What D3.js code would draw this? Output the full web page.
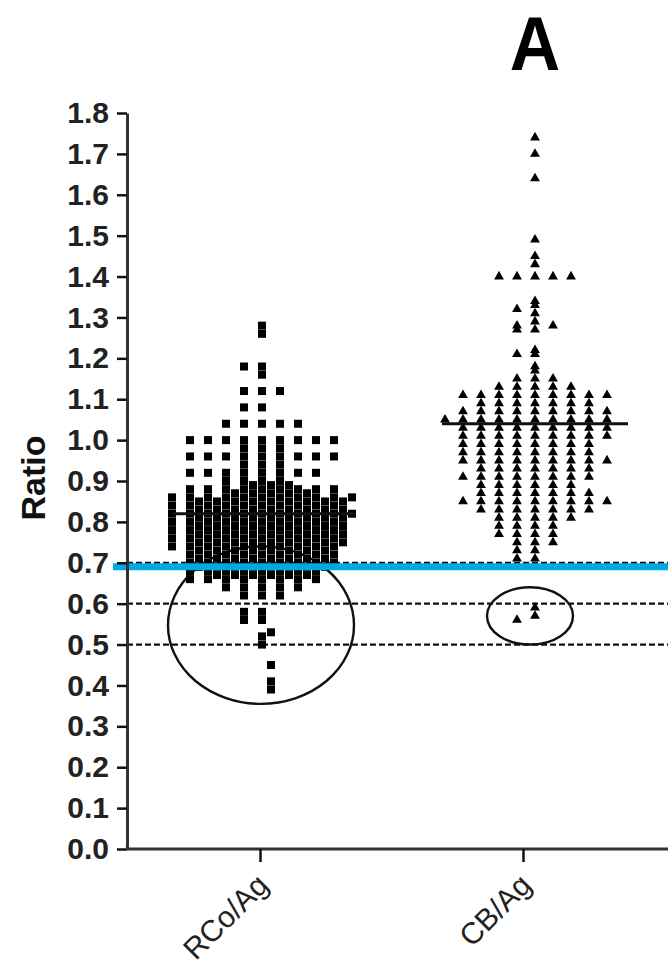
<!DOCTYPE html>
<html>
<head>
<meta charset="utf-8">
<script src="https://cdn.jsdelivr.net/npm/d3@7"></script>
<style>
  html, body { margin: 0; padding: 0; background: #fff; }
  svg { display: block; }
  text { font-family: "Liberation Sans", Arial, sans-serif; }
</style>
</head>
<body>
<svg id="chart" width="668" height="970"></svg>
<script>
// ---------------- data ----------------
const categories = ["RCo/Ag", "CB/Ag"];

const rcoValues = [
  1.28, 1.26, 1.18, 1.18, 1.16, 1.12, 1.12, 1.12, 1.08, 1.08,
  1.04, 1.04, 1.04, 1.04, 1.04,
  1.00, 1.00, 1.00, 1.00, 1.00, 1.00, 1.00, 1.00, 1.00,
  0.98, 0.98, 0.98,
  0.96, 0.96, 0.96, 0.96, 0.96, 0.96, 0.96, 0.96, 0.96,
  0.94, 0.94, 0.94,
  0.92, 0.92, 0.92, 0.92, 0.92, 0.92, 0.92, 0.92,
  0.90, 0.90, 0.90, 0.90,
  0.89, 0.89, 0.89,
  0.88, 0.88, 0.88, 0.88, 0.88, 0.88, 0.88, 0.88, 0.88,
  0.87, 0.87, 0.87, 0.87, 0.87,
  0.86, 0.86, 0.86, 0.86, 0.86, 0.86, 0.86, 0.86, 0.86, 0.86, 0.86,
  0.85, 0.85, 0.85, 0.85, 0.85, 0.85, 0.85, 0.85, 0.85,
  0.84, 0.84, 0.84, 0.84, 0.84, 0.84, 0.84, 0.84, 0.84, 0.84,
  0.83, 0.83, 0.83, 0.83, 0.83, 0.83, 0.83, 0.83, 0.83,
  0.82, 0.82, 0.82, 0.82, 0.82, 0.82, 0.82, 0.82, 0.82, 0.82, 0.82,
  0.81, 0.81, 0.81, 0.81, 0.81, 0.81, 0.81, 0.81, 0.81,
  0.80, 0.80, 0.80, 0.80, 0.80, 0.80, 0.80, 0.80, 0.80, 0.80,
  0.79, 0.79, 0.79, 0.79, 0.79, 0.79, 0.79, 0.79, 0.79,
  0.78, 0.78, 0.78, 0.78, 0.78, 0.78, 0.78, 0.78, 0.78, 0.78,
  0.77, 0.77, 0.77, 0.77, 0.77, 0.77, 0.77, 0.77, 0.77,
  0.76, 0.76, 0.76, 0.76, 0.76, 0.76, 0.76, 0.76, 0.76, 0.76,
  0.75, 0.75, 0.75, 0.75, 0.75, 0.75, 0.75, 0.75, 0.75,
  0.74, 0.74, 0.74, 0.74, 0.74, 0.74, 0.74, 0.74, 0.74, 0.74,
  0.73, 0.73, 0.73, 0.73, 0.73, 0.73, 0.73, 0.73,
  0.72, 0.72, 0.72, 0.72, 0.72, 0.72, 0.72, 0.72, 0.72,
  0.71, 0.71, 0.71, 0.71, 0.71, 0.71, 0.71, 0.71,
  0.70, 0.70, 0.70, 0.70, 0.70, 0.70, 0.70, 0.70, 0.70,
  0.69, 0.69, 0.69, 0.69, 0.69, 0.69, 0.69, 0.69,
  0.68, 0.68, 0.68, 0.68, 0.68, 0.68, 0.68, 0.68,
  0.67, 0.67, 0.67, 0.67, 0.67, 0.67,
  0.66, 0.66, 0.66, 0.66, 0.66, 0.66, 0.66, 0.66,
  0.64, 0.64, 0.64, 0.64, 0.64,
  0.62, 0.62, 0.62,
  0.58, 0.58, 0.56, 0.56, 0.53, 0.52, 0.50, 0.45, 0.41, 0.39
];

const cbValues = [
  1.74, 1.70, 1.64, 1.49, 1.45, 1.43,
  1.40, 1.40, 1.40, 1.40, 1.40,
  1.34, 1.33, 1.32, 1.31, 1.29, 1.28, 1.28, 1.27, 1.27,
  1.22, 1.21, 1.21, 1.18, 1.17,
  1.15, 1.15, 1.15,
  1.13, 1.13, 1.13, 1.13, 1.13,
  1.11, 1.11, 1.11, 1.11, 1.11, 1.11, 1.11, 1.11, 1.11,
  1.09, 1.09, 1.09, 1.09, 1.09, 1.09, 1.09,
  1.07, 1.07, 1.07, 1.07, 1.07, 1.07, 1.07, 1.07, 1.07,
  1.05, 1.05, 1.05, 1.05, 1.05, 1.05, 1.05, 1.05, 1.05, 1.05,
  1.03, 1.03, 1.03, 1.03, 1.03, 1.03, 1.03, 1.03, 1.03,
  1.01, 1.01, 1.01, 1.01, 1.01, 1.01, 1.01, 1.01, 1.01,
  0.99, 0.99, 0.99, 0.99, 0.99, 0.99, 0.99, 0.99,
  0.97, 0.97, 0.97, 0.97, 0.97, 0.97, 0.97, 0.97,
  0.95, 0.95, 0.95, 0.95, 0.95, 0.95, 0.95, 0.95, 0.95,
  0.93, 0.93, 0.93, 0.93, 0.93, 0.93, 0.93,
  0.91, 0.91, 0.91, 0.91, 0.91, 0.91, 0.91, 0.91,
  0.89, 0.89, 0.89, 0.89, 0.89, 0.89,
  0.87, 0.87, 0.87, 0.87, 0.87, 0.87, 0.87,
  0.85, 0.85, 0.85, 0.85, 0.85, 0.85, 0.85, 0.85, 0.85,
  0.83, 0.83, 0.83, 0.83, 0.83, 0.83, 0.83,
  0.81, 0.81, 0.81, 0.81, 0.81,
  0.79, 0.79, 0.79, 0.79,
  0.77, 0.77, 0.77, 0.77,
  0.75, 0.75, 0.75,
  0.73, 0.73, 0.71, 0.71,
  0.59, 0.57, 0.56
];

const medians = [0.82, 1.04];
const yTickValues = [0.0, 0.1, 0.2, 0.3, 0.4, 0.5, 0.6, 0.7, 0.8, 0.9, 1.0, 1.1, 1.2, 1.3, 1.4, 1.5, 1.6, 1.7, 1.8];
const dashedLevels = [0.7, 0.6, 0.5];
const cutoffLevel = 0.69;
// circled regions (value range per category)
const circledLow = [0.355, 0.50];
const circledHigh = [0.74, 0.64];
const panelLabel = "A";
const yLabel = "Ratio";

// ---------------- layout ----------------
const svg = d3.select("#chart");
const plotLeft = 127, plotRight = 668, plotTop = 113, plotBottom = 849;

const y = d3.scaleLinear().domain([0, 1.8]).range([plotBottom, plotTop]);
const x = d3.scalePoint().domain(categories).range([260, 523]);

const groups = [
  { cat: categories[0], values: rcoValues, shape: d3.symbolSquare, size: 64, dx: 2, half: 0, stagger: true, binsPerUnit: 100, step: 18 },
  { cat: categories[1], values: cbValues, shape: d3.symbolTriangle, size: 42, dx: 3, half: 0.5, stagger: false, binsPerUnit: 50, step: 18 }
];

function layout(g) {
  const bins = new Map();
  const pts = [];
  g.values.forEach(v => {
    const key = Math.floor(v * g.binsPerUnit + 1e-6);
    const n = bins.get(key) || 0;
    bins.set(key, n + 1);
    const half = g.stagger ? ((key % 2) ? 0.5 : 0) : g.half;
    let m;
    if (half) {
      m = n % 2 === 0 ? n / 2 + 0.5 : -(Math.floor(n / 2) + 0.5);
    } else {
      m = n === 0 ? 0 : (n % 2 === 1 ? -Math.ceil(n / 2) : n / 2);
    }
    pts.push({ v, px: x(g.cat) + g.dx + m * g.step });
  });
  return pts;
}

// dashed reference lines
svg.append("g").selectAll("line").data(dashedLevels).join("line")
  .attr("x1", plotLeft).attr("x2", plotRight)
  .attr("y1", d => y(d)).attr("y2", d => y(d))
  .attr("stroke", "#111").attr("stroke-width", 2.2)
  .attr("stroke-dasharray", "6,3");

// ellipses
const ellipseRx = [93, 43];
const ellipseDx = [1, 7];
svg.append("g").selectAll("ellipse").data(categories).join("ellipse")
  .attr("cx", (d, i) => x(d) + ellipseDx[i])
  .attr("cy", (d, i) => (y(circledLow[i]) + y(circledHigh[i])) / 2)
  .attr("rx", (d, i) => ellipseRx[i])
  .attr("ry", (d, i) => (y(circledLow[i]) - y(circledHigh[i])) / 2)
  .attr("fill", "none").attr("stroke", "#111").attr("stroke-width", 2.4);

// points
groups.forEach(g => {
  const pts = layout(g);
  svg.append("g").selectAll("path").data(pts).join("path")
    .attr("transform", d => `translate(${d.px},${y(d.v)})`)
    .attr("d", d3.symbol(g.shape, g.size))
    .attr("fill", "#000");
});

// median lines
const medianExtent = [[-88, 95], [-81, 105]];
svg.append("g").selectAll("line").data(categories).join("line")
  .attr("x1", (d, i) => x(d) + medianExtent[i][0])
  .attr("x2", (d, i) => x(d) + medianExtent[i][1])
  .attr("y1", (d, i) => y(medians[i])).attr("y2", (d, i) => y(medians[i]))
  .attr("stroke", "#111").attr("stroke-width", 3);

// cutoff line (blue)
svg.append("line")
  .attr("x1", 113).attr("x2", plotRight)
  .attr("y1", y(cutoffLevel)).attr("y2", y(cutoffLevel))
  .attr("stroke", "#00a9e0").attr("stroke-width", 7);

// y axis
const yAxis = d3.axisLeft(y).tickValues(yTickValues).tickFormat(d3.format(".1f"))
  .tickSize(10).tickSizeOuter(0).tickPadding(8);
const gy = svg.append("g").attr("transform", `translate(${plotLeft},0)`).call(yAxis);
gy.select(".domain").attr("stroke", "#333").attr("stroke-width", 3);
gy.selectAll(".tick line").attr("stroke", "#111").attr("stroke-width", 2.5);
gy.selectAll(".tick text")
  .attr("font-size", 30).attr("font-weight", "bold").attr("fill", "#222")
  .attr("font-family", "'Liberation Sans', Arial, sans-serif");

// x axis
svg.append("line")
  .attr("x1", plotLeft - 1.5).attr("x2", plotRight)
  .attr("y1", plotBottom).attr("y2", plotBottom)
  .attr("stroke", "#333").attr("stroke-width", 3);
const xAxis = d3.axisBottom(x).tickSize(13).tickSizeOuter(0).tickFormat("");
const gx = svg.append("g").attr("transform", `translate(0,${plotBottom})`).call(xAxis);
gx.select(".domain").remove();
gx.selectAll(".tick line").attr("stroke", "#111").attr("stroke-width", 2.5);

svg.append("g").selectAll("text").data(categories).join("text")
  .attr("transform", d => `translate(${x(d) + 10},${plotBottom + 38}) rotate(-45)`)
  .attr("text-anchor", "end")
  .attr("font-size", 30).attr("fill", "#222")
  .text(d => d);

// y label
svg.append("text")
  .attr("transform", `translate(45,478) rotate(-90)`)
  .attr("text-anchor", "middle")
  .attr("font-size", 34).attr("font-weight", "bold").attr("fill", "#111")
  .text(yLabel);

// panel label
svg.append("text")
  .attr("transform", "translate(535,70) scale(0.92,1)")
  .attr("text-anchor", "middle")
  .attr("font-size", 76).attr("font-weight", "bold").attr("fill", "#000")
  .text(panelLabel);
</script>
</body>
</html>
